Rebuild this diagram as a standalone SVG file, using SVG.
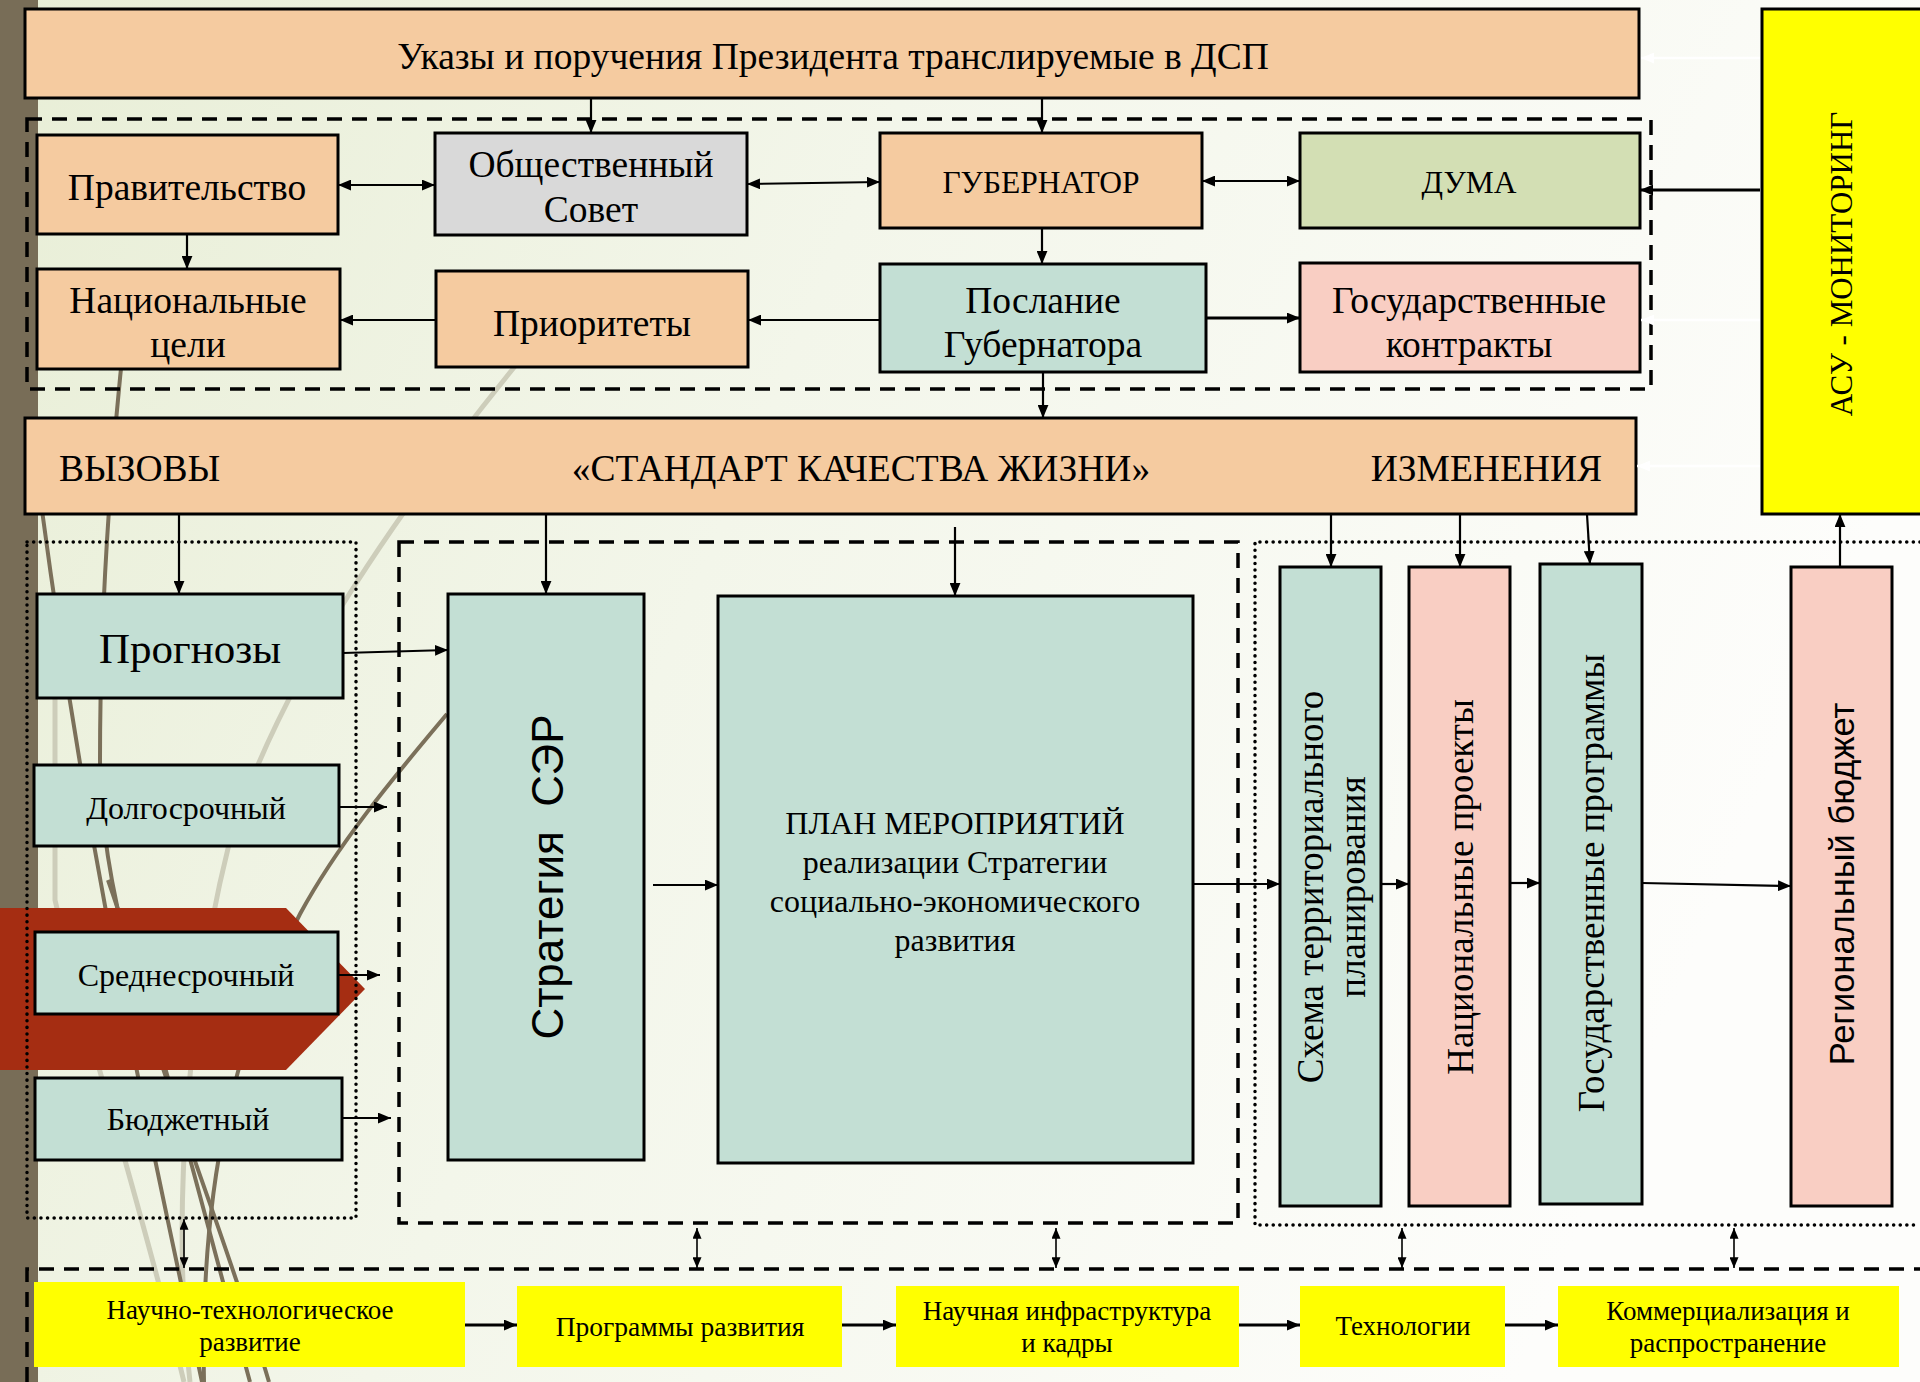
<svg xmlns="http://www.w3.org/2000/svg" width="1920" height="1382" viewBox="0 0 1920 1382">
<defs>
<linearGradient id="bg" x1="0" y1="0" x2="1" y2="0.3">
<stop offset="0" stop-color="#e8eed6"/>
<stop offset="0.45" stop-color="#f3f6ea"/>
<stop offset="1" stop-color="#fdfdfb"/>
</linearGradient>
<marker id="ah" viewBox="0 0 12 10" refX="12" refY="5" markerWidth="13" markerHeight="11" markerUnits="userSpaceOnUse" orient="auto-start-reverse"><path d="M0,0 L12,5 L0,10 z" fill="#000"/></marker>
<marker id="ahs" viewBox="0 0 12 10" refX="12" refY="5" markerWidth="13" markerHeight="9" markerUnits="userSpaceOnUse" orient="auto-start-reverse"><path d="M0,0 L12,5 L0,10 z" fill="#000"/></marker>
<marker id="ahw" viewBox="0 0 12 10" refX="12" refY="5" markerWidth="13" markerHeight="11" markerUnits="userSpaceOnUse" orient="auto"><path d="M0,0 L12,5 L0,10 z" fill="#fff"/></marker>
</defs>
<style>
.box{stroke:#000;stroke-width:3}
.peach{fill:#f5cba0}
.grey{fill:#d9d9d9}
.olive{fill:#d3dfb4}
.teal{fill:#c3dfd4}
.pink{fill:#f9cec3}
.yel{fill:#ffff00}
.t{font-family:"Liberation Serif","Times New Roman",serif;fill:#000;text-anchor:middle;dominant-baseline:central}
.s{font-family:"Liberation Sans",Arial,sans-serif;fill:#000;text-anchor:middle;dominant-baseline:central}
.dash{fill:none;stroke:#000;stroke-width:3.5;stroke-dasharray:15 10}
.dot{fill:none;stroke:#000;stroke-width:3.5;stroke-dasharray:0.1 6.5;stroke-linecap:round}
.ln{fill:none;stroke:#000;stroke-width:2.2}
.lnt{fill:none;stroke:#000;stroke-width:1.6}
.lnb{fill:none;stroke:#000;stroke-width:3}
.wl{fill:none;stroke:#fff;stroke-width:2.5}
.wb{fill:none;stroke:#7b705a;stroke-width:4}
.wg{fill:none;stroke:#cdcdba;stroke-width:5}
</style>
<g id="background">
<rect x="0" y="0" width="1920" height="1382" fill="url(#bg)"/>
<rect x="0" y="0" width="38" height="1382" fill="#786d57"/>
<path class="wg" d="M184 1382 C140 1200 90 1050 55 900 L55 600"/>
<path class="wg" d="M190 1382 C170 1200 190 1000 230 840 C280 680 400 500 570 300"/>
<path class="wb" d="M202 1382 C160 1180 90 880 38 480"/>
<path class="wb" d="M269 1382 C200 1150 100 950 100 760 C100 600 112 450 125 330"/>
<path class="wb" d="M250 1382 C195 1180 150 1000 108 880"/>
<path class="wb" d="M204 1382 C200 1180 235 1040 300 914 C340 840 400 770 447 714"/>
<polygon points="0,908 286,908 365,989 286,1070 0,1070" fill="#a52d12"/>
</g>
<g id="containers">
<rect class="dash" x="27" y="119" width="1624" height="270"/>
<rect class="dot" x="27" y="542" width="329" height="676"/>
<rect class="dash" x="399" y="542" width="839" height="681"/>
<path class="dot" d="M1920 542 H1255 V1225 H1920"/>
<path class="dash" d="M27 1382 V1269 H1920"/>
</g>
<g id="n-ukazy"><rect class="box peach" x="25" y="9" width="1614" height="89"/><text class="t" x="833" y="56" font-size="37.5">Указы и поручения Президента транслируемые в ДСП</text></g>
<g id="n-pravitelstvo"><rect class="box peach" x="37" y="135" width="301" height="99"/><text class="t" x="187" y="187" font-size="37.5">Правительство</text></g>
<g id="n-obsovet"><rect class="box grey" x="435" y="133" width="312" height="102"/><text class="t" x="591" y="164" font-size="37.5">Общественный</text><text class="t" x="591" y="209" font-size="37.5">Совет</text></g>
<g id="n-gubernator"><rect class="box peach" x="880" y="133" width="322" height="95"/><text class="t" x="1041" y="182" font-size="31.5">ГУБЕРНАТОР</text></g>
<g id="n-duma"><rect class="box olive" x="1300" y="133" width="340" height="95"/><text class="t" x="1469" y="182" font-size="31.5">ДУМА</text></g>
<g id="n-natceli"><rect class="box peach" x="37" y="269" width="303" height="100"/><text class="t" x="188" y="300" font-size="37.5">Национальные</text><text class="t" x="188" y="344" font-size="37.5">цели</text></g>
<g id="n-prioritety"><rect class="box peach" x="436" y="271" width="312" height="96"/><text class="t" x="592" y="323" font-size="37.5">Приоритеты</text></g>
<g id="n-poslanie"><rect class="box teal" x="880" y="264" width="326" height="108"/><text class="t" x="1043" y="300" font-size="37.5">Послание</text><text class="t" x="1043" y="344" font-size="37.5">Губернатора</text></g>
<g id="n-goskontrakty"><rect class="box pink" x="1300" y="263" width="340" height="109"/><text class="t" x="1469" y="300" font-size="37.5">Государственные</text><text class="t" x="1469" y="344" font-size="37.5">контракты</text></g>
<g id="n-asu"><rect class="box yel" x="1762" y="9" width="160" height="505"/><text class="t" font-size="31" transform="translate(1841,264) rotate(-90)">АСУ - МОНИТОРИНГ</text></g>
<g id="n-standart"><rect class="box peach" x="25" y="418" width="1611" height="96"/>
<text class="t" x="59" y="468" font-size="37.5" style="text-anchor:start">ВЫЗОВЫ</text>
<text class="t" x="861" y="468" font-size="37.5">«СТАНДАРТ КАЧЕСТВА ЖИЗНИ»</text>
<text class="t" x="1602" y="468" font-size="37.5" style="text-anchor:end">ИЗМЕНЕНИЯ</text></g>
<g id="n-prognozy"><rect class="box teal" x="37" y="594" width="306" height="104"/><text class="t" x="190" y="648" font-size="43">Прогнозы</text></g>
<g id="n-dolgosrochny"><rect class="box teal" x="34" y="765" width="305" height="81"/><text class="t" x="186" y="808" font-size="32">Долгосрочный</text></g>
<g id="n-srednesrochny"><rect class="box teal" x="35" y="932" width="303" height="82"/><text class="t" x="186" y="975" font-size="32">Среднесрочный</text></g>
<g id="n-budgetny"><rect class="box teal" x="35" y="1078" width="307" height="82"/><text class="t" x="188" y="1119" font-size="32">Бюджетный</text></g>
<g id="n-strategiya"><rect class="box teal" x="448" y="594" width="196" height="566"/><text class="s" font-size="44" style="white-space:pre" transform="translate(547,877) rotate(-90)">Стратегия  СЭР</text></g>
<g id="n-plan"><rect class="box teal" x="718" y="596" width="475" height="567"/>
<text class="t" x="955" y="823" font-size="32">ПЛАН МЕРОПРИЯТИЙ</text>
<text class="t" x="955" y="862" font-size="32">реализации Стратегии</text>
<text class="t" x="955" y="901" font-size="32">социально-экономического</text>
<text class="t" x="955" y="940" font-size="32">развития</text></g>
<g id="n-skhema"><rect class="box teal" x="1280" y="567" width="101" height="639"/><text class="t" font-size="37" transform="translate(1331,887) rotate(-90)"><tspan x="0" y="-21">Схема территориального</tspan><tspan x="0" y="21">планирования</tspan></text></g>
<g id="n-natproekty"><rect class="box pink" x="1409" y="567" width="101" height="639"/><text class="t" font-size="37" transform="translate(1460,887) rotate(-90)">Национальные проекты</text></g>
<g id="n-gosprogrammy"><rect class="box teal" x="1540" y="564" width="102" height="640"/><text class="t" font-size="37" transform="translate(1591,883) rotate(-90)">Государственные программы</text></g>
<g id="n-regbudget"><rect class="box pink" x="1791" y="567" width="101" height="639"/><text class="s" font-size="34.5" transform="translate(1842,884) rotate(-90)">Региональный бюджет</text></g>
<g id="n-nauchtech"><rect class="yel" x="34" y="1282" width="431" height="85"/><text class="t" x="250" y="1310" font-size="27">Научно-технологическое</text><text class="t" x="250" y="1342" font-size="27">развитие</text></g>
<g id="n-programmy"><rect class="yel" x="517" y="1286" width="325" height="81"/><text class="t" x="680" y="1326" font-size="27.5">Программы развития</text></g>
<g id="n-infra"><rect class="yel" x="896" y="1286" width="343" height="81"/><text class="t" x="1067" y="1311" font-size="27">Научная инфраструктура</text><text class="t" x="1067" y="1343" font-size="27">и кадры</text></g>
<g id="n-tehnologii"><rect class="yel" x="1300" y="1286" width="205" height="81"/><text class="t" x="1403" y="1326" font-size="27">Технологии</text></g>
<g id="n-kommerc"><rect class="yel" x="1558" y="1286" width="341" height="81"/><text class="t" x="1728" y="1311" font-size="27">Коммерциализация и</text><text class="t" x="1728" y="1343" font-size="27">распространение</text></g>
<g id="connectors">
<path class="wl" marker-end="url(#ahw)" d="M1760 58 H1641"/>
<path class="wl" marker-end="url(#ahw)" d="M1760 320 H1641"/>
<path class="wl" marker-end="url(#ahw)" d="M1760 466 H1637"/>
<path class="ln" marker-end="url(#ah)" d="M591 98 V133"/>
<path class="ln" marker-end="url(#ah)" d="M1042 98 V133"/>
<path class="ln" marker-start="url(#ah)" marker-end="url(#ah)" d="M338 185 H435"/>
<path class="ln" marker-start="url(#ah)" marker-end="url(#ah)" d="M747 184 L880 182"/>
<path class="ln" marker-start="url(#ah)" marker-end="url(#ah)" d="M1202 181 H1300"/>
<path class="lnb" marker-end="url(#ah)" d="M1760 190 H1640"/>
<path class="ln" marker-end="url(#ah)" d="M187 234 V269"/>
<path class="ln" marker-end="url(#ah)" d="M436 320 H340"/>
<path class="ln" marker-end="url(#ah)" d="M880 320 H748"/>
<path class="lnb" marker-end="url(#ah)" d="M1206 318 H1300"/>
<path class="ln" marker-end="url(#ah)" d="M1042 228 V264"/>
<path class="ln" marker-end="url(#ah)" d="M1043 372 V418"/>
<path class="ln" marker-end="url(#ah)" d="M179 514 V594"/>
<path class="ln" marker-end="url(#ah)" d="M343 653 L448 650"/>
<path class="ln" marker-end="url(#ah)" d="M339 807 H387"/>
<path class="ln" marker-end="url(#ah)" d="M338 975 H380"/>
<path class="ln" marker-end="url(#ah)" d="M342 1118 H391"/>
<path class="ln" marker-end="url(#ah)" d="M546 514 V594"/>
<path class="ln" marker-end="url(#ah)" d="M955 527 V596"/>
<path class="ln" marker-end="url(#ah)" d="M653 885 H718"/>
<path class="ln" marker-end="url(#ah)" d="M1193 884 H1280"/>
<path class="ln" marker-end="url(#ah)" d="M1331 514 V567"/>
<path class="ln" marker-end="url(#ah)" d="M1460 514 V567"/>
<path class="ln" marker-end="url(#ah)" d="M1587 514 L1590 564"/>
<path class="ln" marker-end="url(#ah)" d="M1381 884 H1409"/>
<path class="ln" marker-end="url(#ah)" d="M1510 883 H1540"/>
<path class="ln" marker-end="url(#ah)" d="M1642 883 L1791 886"/>
<path class="ln" marker-end="url(#ah)" d="M1840 567 V514"/>
<path class="lnt" marker-start="url(#ahs)" marker-end="url(#ahs)" d="M184 1219 V1268"/>
<path class="lnt" marker-start="url(#ahs)" marker-end="url(#ahs)" d="M697 1228 V1268"/>
<path class="lnt" marker-start="url(#ahs)" marker-end="url(#ahs)" d="M1056 1228 V1268"/>
<path class="lnt" marker-start="url(#ahs)" marker-end="url(#ahs)" d="M1402 1228 V1268"/>
<path class="lnt" marker-start="url(#ahs)" marker-end="url(#ahs)" d="M1734 1228 V1268"/>
<path class="lnb" marker-end="url(#ah)" d="M465 1325 H517"/>
<path class="lnb" marker-end="url(#ah)" d="M842 1325 H896"/>
<path class="lnb" marker-end="url(#ah)" d="M1239 1325 H1300"/>
<path class="lnb" marker-end="url(#ah)" d="M1505 1325 H1558"/>
</g>
</svg>
